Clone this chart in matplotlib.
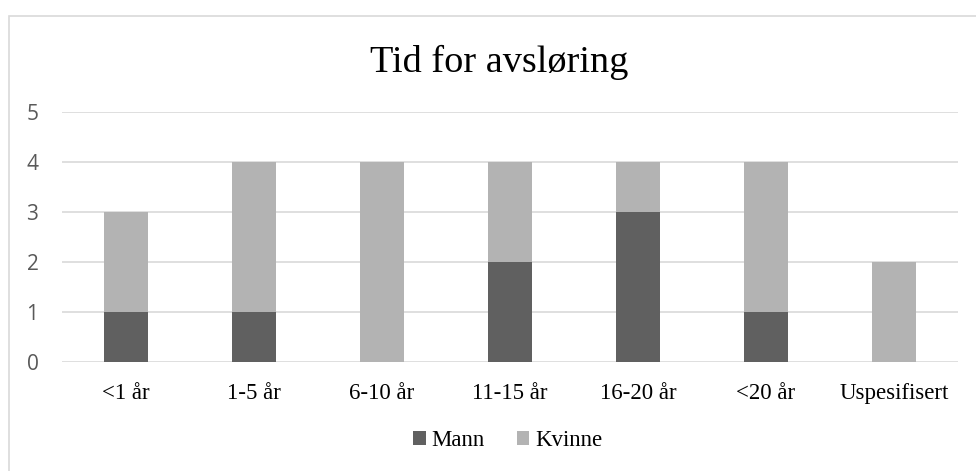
import matplotlib.pyplot as plt
from matplotlib.patches import Rectangle
import numpy as np

categories = ['<1 år', '1-5 år', '6-10 år', '11-15 år', '16-20 år', '<20 år', 'Uspesifisert']
mann = [1, 1, 0, 2, 3, 1, 0]
kvinne = [2, 3, 4, 2, 1, 3, 2]

fig = plt.figure(figsize=(9.76, 4.71), dpi=100)
# chart border, cut off at right and bottom like the reference
fig.patches.append(Rectangle((9/976, -0.05), 1.0, 1 - 16/471 + 0.05,
                             transform=fig.transFigure, fill=False,
                             edgecolor='#d9d9d9', linewidth=1.2))

ax = fig.add_axes([62/976, 1 - 362/471, (958 - 62)/976, 250/471])
x = np.arange(len(categories))
w = 0.35
ax.bar(x, mann, w, color='#606060', label='Mann', zorder=3)
ax.bar(x, kvinne, w, bottom=mann, color='#b3b3b3', label='Kvinne', zorder=3)

ax.set_xlim(-0.5, len(categories) - 0.5)
ax.set_ylim(0, 5)
ax.set_yticks(range(6))
ax.yaxis.grid(True, color='#d9d9d9', linewidth=1.2, zorder=0)
for s in ax.spines.values():
    s.set_visible(False)
ax.tick_params(length=0)
ax.set_yticklabels([str(v) for v in range(6)], family='Open Sans',
                   fontsize=15, color='#595959')
ax.tick_params(axis='y', pad=17)
ax.set_xticks(x)
ax.set_xticklabels(categories, family='Liberation Serif', fontsize=16.5)
ax.tick_params(axis='x', pad=15)

fig.text(499/976, 1 - 62/471, 'Tid for avsløring', ha='center', va='center',
         family='Liberation Serif', fontsize=27.5)
fig.legend(loc='center', bbox_to_anchor=(0.52, 1 - 441/471), ncol=2, frameon=False,
           prop={'family': 'Liberation Serif', 'size': 16.5}, handlelength=0.55,
           handleheight=0.55, columnspacing=1.4, handletextpad=0.25)

fig.savefig('out.png', dpi=100)
